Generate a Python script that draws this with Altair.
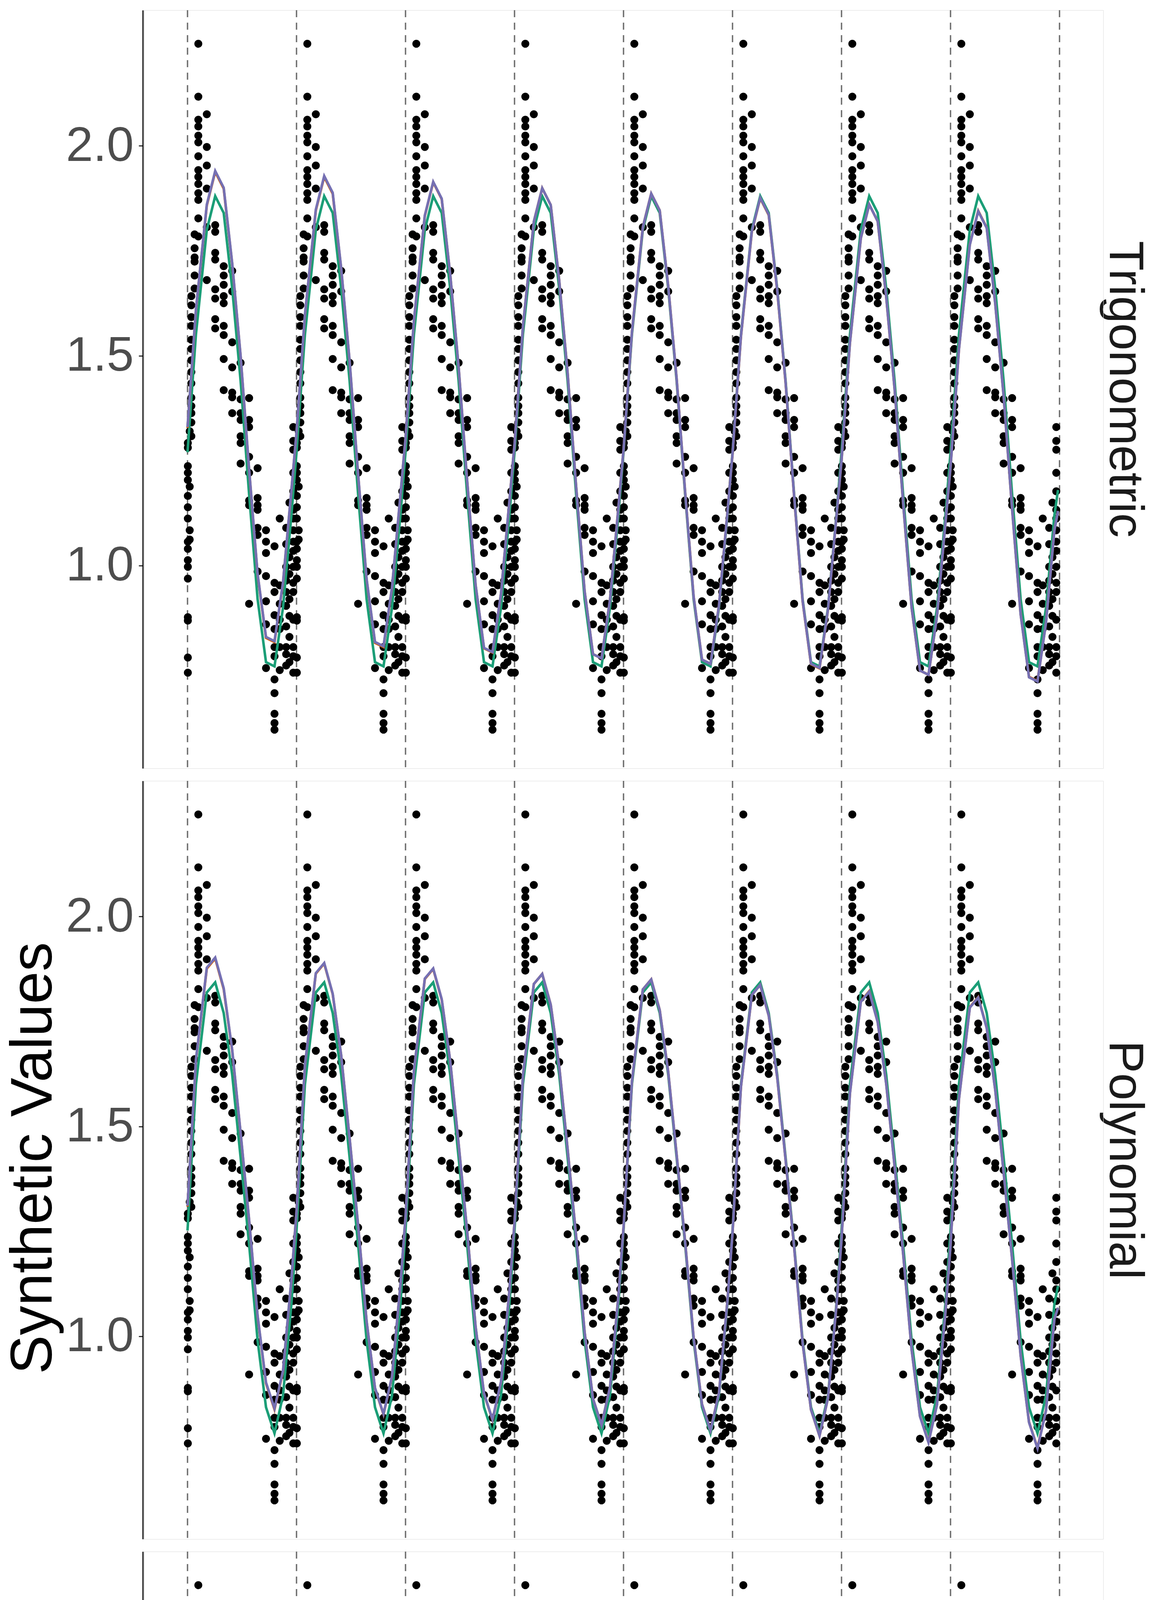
import altair as alt
import pandas as pd

FONT = "Liberation Sans"

PANELS = ["Trigonometric", "Polynomial", "Piecewise Linear"]
MODELS = ["Constant", "Linear", "Quadratic"]
COLORS = ["#1B9E77", "#D95F02", "#7570B3"]
YEARS = [2007, 2008, 2009, 2010, 2011, 2012, 2013, 2014]
GRID_YEARS = [2007, 2008, 2009, 2010, 2011, 2012, 2013, 2014, 2015]
END_X = 2014.986

# ---- measured values: one seasonal cycle (fraction of year, value), repeated each year
POINT_FRAC = (
    [0.003] * 17 + [0.02] * 4 + [0.035] * 14 + [0.065] * 6 + [0.099] * 14 +
    [0.177] * 6 + [0.254] * 8 + [0.332] * 9 + [0.41] * 7 + [0.487] * 7 +
    [0.565] * 8 + [0.643] * 7 + [0.72] * 7 + [0.798] * 12 + [0.846] * 7 +
    [0.905] * 10 + [0.935] * 7 + [0.97] * 17
)
POINT_VALUE = [
    1.292, 1.281, 1.237, 1.221, 1.204, 1.166, 1.139, 1.112, 1.057, 1.040, 1.013, 0.997, 0.969, 0.877, 0.869, 0.781, 0.745,
    1.188, 1.084, 1.062, 1.320,
    1.642, 1.620, 1.592, 1.571, 1.538, 1.516, 1.489, 1.461, 1.434, 1.363, 1.341, 1.308, 1.400, 1.380,
    1.789, 1.756, 1.734, 1.724, 1.691, 1.660,
    2.243, 2.117, 2.062, 2.046, 2.024, 2.008, 1.975, 1.942, 1.926, 1.909, 1.887, 1.871, 1.827, 1.784,
    2.075, 1.997, 1.953, 1.898, 1.806, 1.680,
    1.811, 1.795, 1.745, 1.729, 1.658, 1.636, 1.587, 1.565,
    1.713, 1.691, 1.669, 1.642, 1.625, 1.571, 1.549, 1.492, 1.418,
    1.702, 1.653, 1.532, 1.472, 1.412, 1.401, 1.363,
    1.483, 1.396, 1.363, 1.347, 1.308, 1.292, 1.243,
    1.399, 1.347, 1.330, 1.259, 1.221, 1.155, 1.144, 0.909,
    1.232, 1.161, 1.144, 1.133, 1.090, 1.073, 0.986,
    1.084, 1.057, 1.030, 0.975, 0.915, 0.860, 0.756,
    1.046, 0.959, 0.937, 0.882, 0.849, 0.806, 0.784, 0.729, 0.696, 0.647, 0.625, 0.609,
    1.112, 0.953, 0.909, 0.871, 0.849, 0.806, 0.751,
    1.090, 1.051, 0.997, 0.964, 0.937, 0.904, 0.855, 0.806, 0.789, 0.762,
    1.150, 1.020, 0.980, 0.920, 0.880, 0.830, 0.770,
    1.330, 1.297, 1.276, 1.221, 1.177, 1.133, 1.112, 1.084, 1.057, 1.035, 0.997, 0.959, 0.937, 0.871, 0.806, 0.784, 0.745,
]

# ---- fitted curves (seasonal vertices within a year)
SEASON_FRAC = [0.0, 0.077, 0.177, 0.254, 0.332, 0.41, 0.487, 0.565, 0.643, 0.72, 0.798, 0.876, 0.953]

TRIG_CONSTANT = [1.27, 1.55, 1.80, 1.88, 1.84, 1.66, 1.44, 1.17, 0.92, 0.77, 0.76, 0.90, 1.12]
TRIG_LINEAR_SHIFT = [0.058, 0.046, 0.033, 0.019, 0.006, -0.005, -0.020, -0.035]
TRIG_QUADRATIC_SHIFT = [0.060, 0.048, 0.034, 0.019, 0.006, -0.004, -0.020, -0.036]
TRIG_END = [1.18, 1.13, 1.13]

POLY_CONSTANT = [1.252, 1.60, 1.819, 1.843, 1.770, 1.623, 1.426, 1.219, 0.990, 0.831, 0.769, 0.859, 1.077]
POLY_LINEAR_SHIFT = [0.057, 0.045, 0.032, 0.020, 0.007, -0.006, -0.021, -0.035]
POLY_QUADRATIC_SHIFT = [0.059, 0.046, 0.033, 0.020, 0.007, -0.006, -0.022, -0.036]
POLY_END = [1.120, 1.068, 1.068]

PW_PEAK_FRAC = 0.103
PW_TROUGH_FRAC = 0.795
PW_START = [1.381, 1.448, 1.448]
PW_CONSTANT_PEAK = [1.720, 1.722, 1.722, 1.723, 1.724, 1.725, 1.726, 1.727]
PW_CONSTANT_TROUGH = [0.691, 0.691, 0.691, 0.691, 0.691, 0.691, 0.691, 0.691]
PW_LINEAR_PEAK = [1.782, 1.769, 1.758, 1.746, 1.733, 1.722, 1.710, 1.696]
PW_LINEAR_TROUGH = [0.756, 0.740, 0.725, 0.712, 0.699, 0.684, 0.669, 0.654]
PW_QUADRATIC_PEAK = [1.784, 1.770, 1.759, 1.747, 1.733, 1.722, 1.710, 1.695]
PW_QUADRATIC_TROUGH = [0.757, 0.740, 0.725, 0.712, 0.699, 0.684, 0.668, 0.653]
PW_END = [1.293, 1.252, 1.252]

# ---- build long table
rows = []
for panel in PANELS:
    for gy in GRID_YEARS:
        rows.append(dict(kind="grid", panel=panel, x=gy, y=None, model=None, label=None))
    for yr in YEARS:
        for f, v in zip(POINT_FRAC, POINT_VALUE):
            rows.append(dict(kind="point", panel=panel, x=yr + f, y=v, model=None, label="Measured Values"))


def seasonal(panel, model, shape, shifts, end):
    for yi, yr in enumerate(YEARS):
        for f, v in zip(SEASON_FRAC, shape):
            rows.append(dict(kind="line", panel=panel, x=yr + f, y=v + shifts[yi], model=model, label=None))
    rows.append(dict(kind="line", panel=panel, x=END_X, y=end, model=model, label=None))


zero = [0.0] * len(YEARS)
seasonal("Trigonometric", "Constant", TRIG_CONSTANT, zero, TRIG_END[0])
seasonal("Trigonometric", "Linear", TRIG_CONSTANT, TRIG_LINEAR_SHIFT, TRIG_END[1])
seasonal("Trigonometric", "Quadratic", TRIG_CONSTANT, TRIG_QUADRATIC_SHIFT, TRIG_END[2])
seasonal("Polynomial", "Constant", POLY_CONSTANT, zero, POLY_END[0])
seasonal("Polynomial", "Linear", POLY_CONSTANT, POLY_LINEAR_SHIFT, POLY_END[1])
seasonal("Polynomial", "Quadratic", POLY_CONSTANT, POLY_QUADRATIC_SHIFT, POLY_END[2])

for mi, (model, peaks, troughs) in enumerate([
    ("Constant", PW_CONSTANT_PEAK, PW_CONSTANT_TROUGH),
    ("Linear", PW_LINEAR_PEAK, PW_LINEAR_TROUGH),
    ("Quadratic", PW_QUADRATIC_PEAK, PW_QUADRATIC_TROUGH),
]):
    rows.append(dict(kind="line", panel="Piecewise Linear", x=2007.0, y=PW_START[mi], model=model, label=None))
    for yi, yr in enumerate(YEARS):
        rows.append(dict(kind="line", panel="Piecewise Linear", x=yr + PW_PEAK_FRAC, y=peaks[yi], model=model, label=None))
        rows.append(dict(kind="line", panel="Piecewise Linear", x=yr + PW_TROUGH_FRAC, y=troughs[yi], model=model, label=None))
    rows.append(dict(kind="line", panel="Piecewise Linear", x=END_X, y=PW_END[mi], model=model, label=None))

df = pd.DataFrame(rows)

# ---- encodings
x_scale = alt.Scale(domain=[2006.595, 2015.401], nice=False, zero=False)
y_scale = alt.Scale(domain=[0.517, 2.323], nice=False, zero=False)

x_axis = alt.Axis(
    title="Date", values=GRID_YEARS, format="d", grid=False,
    labelAngle=45, labelFontSize=96, labelColor="#4d4d4d", labelFont=FONT, labelPadding=6,
    labelOverlap=False, labelFlush=False, labelLimit=2000,
    tickSize=11, tickWidth=3, tickColor="#333333",
    domainColor="black", domainWidth=4,
    titleFontSize=148, titleFont=FONT, titleFontWeight="normal", titleColor="black", titlePadding=26,
)
y_axis = alt.Axis(
    title=None, values=[1.0, 1.5, 2.0], format=".1f", grid=False,
    labelFontSize=125, labelColor="#4d4d4d", labelFont=FONT, labelPadding=13, labelLimit=2000,
    tickSize=11, tickWidth=3, tickColor="#333333",
    domainColor="black", domainWidth=4,
)

X = alt.X("x:Q", scale=x_scale, axis=x_axis)
Y = alt.Y("y:Q", scale=y_scale, axis=y_axis)

grid = alt.Chart().transform_filter(alt.datum.kind == "grid").mark_rule(
    color="#6e6e6e", strokeWidth=3.5, strokeDash=[18, 14]
).encode(x=alt.X("x:Q", scale=x_scale, axis=x_axis))

points = alt.Chart().transform_filter(alt.datum.kind == "point").mark_point(
    filled=True, size=420, color="black", opacity=1
).encode(
    x=X, y=Y,
    shape=alt.Shape(
        "label:N",
        scale=alt.Scale(domain=["Measured Values"], range=["circle"]),
        legend=alt.Legend(
            title=None, orient="none", legendX=790, legendY=6312,
            labelFontSize=100, labelFont=FONT, labelColor="black", labelOffset=37, labelLimit=3000,
            symbolSize=450, symbolFillColor="black", symbolStrokeColor="black", symbolStrokeWidth=0,
        ),
    ),
)

color_enc = alt.Color(
    "model:N",
    scale=alt.Scale(domain=MODELS, range=COLORS),
    legend=alt.Legend(
        title="B(t) model:", titleOrient="left", orient="none", direction="horizontal", columns=3,
        legendX=141, legendY=6450,
        titleFontSize=100, titleFont=FONT, titleFontWeight="normal", titleColor="black",
        titlePadding=80, titleLimit=3000,
        labelFontSize=100, labelFont=FONT, labelColor="black", labelOffset=40, labelLimit=3000,
        symbolType="stroke", symbolStrokeWidth=9, symbolSize=3249, columnPadding=38,
    ),
)

lines = [
    alt.Chart().transform_filter(
        (alt.datum.kind == "line") & (alt.datum.model == m)
    ).mark_line(strokeWidth=6.5).encode(x=X, y=Y, color=color_enc, order="x:Q")
    for m in MODELS
]

layered = alt.layer(grid, points, *lines, data=df).properties(width=2457, height=1941)

chart = layered.facet(
    row=alt.Row(
        "panel:N", sort=PANELS, title=None,
        header=alt.Header(
            labelOrient="right", labelAngle=90, labelFontSize=125, labelLimit=3000,
            labelFont=FONT, labelColor="#1a1a1a", labelPadding=-10,
        ),
    ),
    spacing=26,
).properties(
    title=alt.TitleParams(
        "Synthetic Values", orient="left", anchor="middle", angle=-90,
        fontSize=150, font=FONT, fontWeight="normal", color="black", offset=5, dx=335,
    ),
    padding={"left": 4, "top": 15, "right": 0, "bottom": 5},
).configure_view(
    stroke="#333333", strokeWidth=2.5
).configure(background="white")

chart.save("out.html", embed_options={"renderer": "svg", "actions": False})
